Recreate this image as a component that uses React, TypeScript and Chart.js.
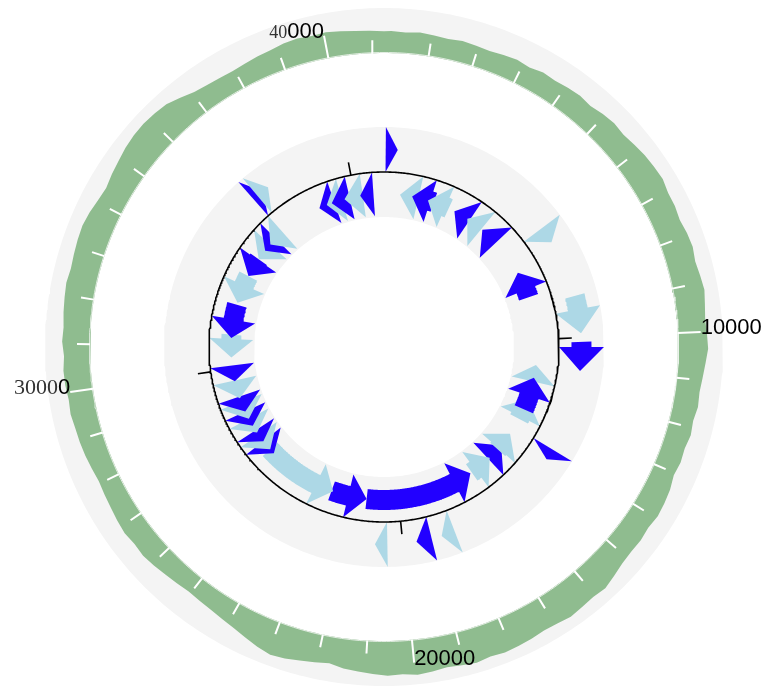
import React, { useEffect, useRef } from "react";
import { Chart, registerables } from "chart.js";

Chart.register(...registerables);

// ---------------- data ----------------
const GENOME_LENGTH = 41250;
const TICK_STEP = 1000;
const TICK_LABEL_VALUES = [10000, 20000, 30000, 40000];
const TICK_LABELS = ["10000", "20000", "30000", "40000"];

// GC content per 300 bp window (fraction of track height)
const GC_WINDOW = 300;
const GC_VALUES = [
  0.49, 0.47, 0.5, 0.48, 0.46, 0.49, 0.47, 0.45, 0.48, 0.5, 0.47, 0.52,
  0.5, 0.53, 0.55, 0.52, 0.57, 0.6, 0.58, 0.62, 0.66, 0.68, 0.7, 0.65,
  0.65, 0.62, 0.66, 0.68, 0.64, 0.67, 0.7, 0.66, 0.63, 0.65, 0.67, 0.62,
  0.58, 0.55, 0.57, 0.53, 0.56, 0.52, 0.54, 0.51, 0.57, 0.6, 0.62, 0.58,
  0.61, 0.6, 0.62, 0.68, 0.74, 0.71, 0.73, 0.76, 0.72, 0.7, 0.73, 0.75,
  0.77, 0.74, 0.78, 0.75, 0.72, 0.76, 0.79, 0.75, 0.77, 0.74, 0.7, 0.67,
  0.6, 0.64, 0.68, 0.73, 0.76, 0.7, 0.62, 0.55, 0.5, 0.46, 0.44, 0.42,
  0.45, 0.48, 0.52, 0.55, 0.53, 0.56, 0.54, 0.51, 0.49, 0.47, 0.5, 0.53,
  0.55, 0.56, 0.59, 0.57, 0.6, 0.61, 0.58, 0.62, 0.6, 0.63, 0.65, 0.67,
  0.64, 0.66, 0.68, 0.69, 0.66, 0.61, 0.58, 0.63, 0.67, 0.72, 0.75, 0.76,
  0.74, 0.71, 0.62, 0.53, 0.49, 0.47, 0.46, 0.48, 0.51, 0.53, 0.57, 0.59,
  0.56, 0.58, 0.55, 0.52, 0.5, 0.48,
];

// genes: [start, end, strand, track, shade] (drawing order)
const GENES: [number, number, number, string, string][] = [
  [688, 1490, -1, "in", "light"],
  [1215, 2177, -1, "in", "dark"],
  [1914, 2865, -1, "in", "light"],
  [3140, 3896, -1, "in", "dark"],
  [3782, 4527, -1, "in", "light"],
  [4584, 5386, -1, "in", "dark"],
  [6991, 8137, -1, "in", "dark"],
  [12606, 13523, -1, "in", "light"],
  [11082, 11804, -1, "in", "light"],
  [11643, 13064, -1, "in", "dark"],
  [14898, 15700, -1, "in", "dark"],
  [14268, 15127, -1, "in", "light"],
  [15620, 16617, -1, "in", "light"],
  [16686, 21373, -1, "in", "dark"],
  [21373, 22920, -1, "in", "dark"],
  [22851, 26129, -1, "in", "light"],
  [25900, 26587, -1, "in", "dark"],
  [26129, 26931, -1, "in", "light"],
  [26587, 27160, -1, "in", "dark"],
  [27046, 27733, -1, "in", "light"],
  [27389, 28077, -1, "in", "dark"],
  [27733, 28535, -1, "in", "light"],
  [28077, 28765, -1, "in", "dark"],
  [28696, 29487, -1, "in", "light"],
  [29452, 30140, -1, "in", "dark"],
  [30484, 31469, -1, "in", "light"],
  [31320, 32776, -1, "in", "dark"],
  [32867, 34094, -1, "in", "light"],
  [34105, 34953, -1, "in", "dark"],
  [34953, 35755, -1, "in", "light"],
  [35411, 36099, -1, "in", "dark"],
  [35755, 36500, -1, "in", "light"],
  [38391, 39079, -1, "in", "dark"],
  [38735, 39422, -1, "in", "light"],
  [38964, 39766, -1, "in", "dark"],
  [39537, 40339, -1, "in", "light"],
  [40225, 40798, -1, "in", "dark"],
  [57, 458, 1, "out", "dark"],
  [6074, 6647, 1, "out", "light"],
  [8595, 9856, 1, "out", "light"],
  [10142, 11116, 1, "out", "dark"],
  [13901, 14279, 1, "out", "dark"],
  [18221, 18680, 1, "out", "light"],
  [19024, 19539, 1, "out", "dark"],
  [20513, 20926, 1, "out", "light"],
  [36500, 36901, 1, "out", "dark"],
  [36672, 37130, 1, "out", "light"],
];

// ---------------- layout ----------------
const W = 763;
const H = 686;
const CX = 384;
const CY = 347;
const R_GC_IN = 294;
const R_GC_OUT = 339;
const R_TICK_MINOR = 307;
const R_TICK_MAJOR = 317;
const R_TRACK_IN = 130;
const R_TRACK_OUT = 220;
const R_AXIS = 175;
const R_AXIS_TICK = 188;
const TRACKS: Record<string, [number, number]> = { in: [131, 175], out: [175, 220] };
const HEAD_BP = 800;
const BODY_HALF = 10;
const COLORS: Record<string, string> = {
  ring: "#f4f4f4",
  gc: "#8fbc8f",
  dark: "#2200ff",
  light: "#add8e6",
};
const LABEL_SERIF_PREFIX = [0, 0, 4, 2];
const LABEL_SERIF_SIZE = [0, 0, 22, 18];

type P = { x: number; y: number | null };
const ang = (bp: number) => (bp / GENOME_LENGTH) * 2 * Math.PI;
const pt = (bp: number, r: number): P => ({ x: r * Math.sin(ang(bp)), y: r * Math.cos(ang(bp)) });
const arc = (b0: number, b1: number, r: number, step = 60): P[] => {
  const n = Math.max(1, Math.ceil(Math.abs(b1 - b0) / step));
  const out: P[] = [];
  for (let i = 0; i <= n; i++) out.push(pt(b0 + ((b1 - b0) * i) / n, r));
  return out;
};
const ring = (r0: number, r1: number): P[] => [
  ...arc(0, GENOME_LENGTH, r1, 100),
  ...arc(GENOME_LENGTH, 0, r0, 100),
];
const gcRadius = (v: number) => R_GC_IN + v * (R_GC_OUT - R_GC_IN);

function gcShape(): P[] {
  const first = GC_VALUES[0];
  const last = GC_VALUES[GC_VALUES.length - 1];
  const seam = gcRadius((first + last) / 2);
  const pts: P[] = [pt(0, seam)];
  GC_VALUES.forEach((v, i) => {
    const mid = (i + 0.5) * GC_WINDOW;
    if (mid < GENOME_LENGTH) pts.push(pt(mid, gcRadius(v)));
  });
  pts.push(pt(GENOME_LENGTH, seam));
  return [...pts, ...arc(GENOME_LENGTH, 0, R_GC_IN, 100)];
}

function gcTicks(): P[] {
  const pts: P[] = [];
  for (let bp = TICK_STEP; bp < GENOME_LENGTH; bp += TICK_STEP) {
    const major = TICK_LABEL_VALUES.includes(bp);
    pts.push(pt(bp, R_GC_IN), pt(bp, major ? R_TICK_MAJOR : R_TICK_MINOR), { x: 0, y: null });
  }
  return pts;
}

function axisTicks(): P[] {
  const pts: P[] = [];
  TICK_LABEL_VALUES.forEach((bp) => {
    pts.push(pt(bp, R_AXIS), pt(bp, R_AXIS_TICK), { x: 0, y: null });
  });
  return pts;
}

function arrow(start: number, end: number, strand: number, track: string): P[] {
  const [rIn, rOut] = TRACKS[track];
  const rMid = (rIn + rOut) / 2;
  const len = end - start;
  const head = Math.min(len, HEAD_BP);
  const tail = strand > 0 ? start : end;
  const tip = strand > 0 ? end : start;
  const base = tip - strand * head;
  const pts: P[] = [];
  const hasBody = len > head;
  if (hasBody) pts.push(...arc(tail, base, rMid + BODY_HALF, 40));
  pts.push(pt(base, rOut), pt(tip, rMid), pt(base, rIn));
  if (hasBody) pts.push(...arc(base, tail, rMid - BODY_HALF, 40));
  return pts;
}

const labelPlugin = {
  id: "tickLabels",
  afterDatasetsDraw(chart: any) {
    const { ctx } = chart;
    const xs = chart.scales.x;
    const ys = chart.scales.y;
    const sans = '22px "Liberation Sans", Arial, sans-serif';
    ctx.save();
    ctx.textBaseline = "alphabetic";
    TICK_LABEL_VALUES.forEach((v, i) => {
      const p = pt(v, R_TICK_MAJOR);
      const px = xs.getPixelForValue(p.x);
      const py = ys.getPixelForValue(p.y as number) + 2;
      const text = TICK_LABELS[i];
      const k = LABEL_SERIF_PREFIX[i];
      const serif = `${LABEL_SERIF_SIZE[i] || 20}px "Liberation Serif", "DejaVu Serif", serif`;
      const a = text.slice(0, k);
      const b = text.slice(k);
      ctx.font = serif;
      const wa = a ? ctx.measureText(a).width : 0;
      ctx.font = sans;
      const wb = ctx.measureText(b).width;
      const right = Math.sin(ang(v)) >= 0;
      const x0 = right ? px : px - wa - wb;
      ctx.textAlign = "left";
      if (a) {
        ctx.font = serif;
        ctx.fillStyle = "#333";
        ctx.fillText(a, x0, py);
      }
      ctx.font = sans;
      ctx.fillStyle = "#000";
      ctx.fillText(b, x0 + wa, py);
    });
    ctx.restore();
  },
};

export default function App() {
  const ref = useRef<HTMLCanvasElement | null>(null);
  useEffect(() => {
    if (!ref.current) return;
    const ds: any[] = [];
    const add = (data: P[], extra: any) =>
      ds.push({
        data,
        pointRadius: 0,
        pointHoverRadius: 0,
        borderWidth: 0,
        tension: 0,
        fill: false,
        spanGaps: false,
        ...extra,
      });
    add(ring(R_GC_IN, R_GC_OUT), { fill: "shape", backgroundColor: COLORS.ring });
    add(ring(R_TRACK_IN, R_TRACK_OUT), { fill: "shape", backgroundColor: COLORS.ring });
    add(gcShape(), { fill: "shape", backgroundColor: COLORS.gc });
    add(arc(0, GENOME_LENGTH, R_GC_IN + 0.5, 100), { borderColor: "rgba(235,242,235,0.9)", borderWidth: 1 });
    add(gcTicks(), { borderColor: "#ffffff", borderWidth: 2 });
    GENES.forEach((g) =>
      add(arrow(g[0], g[1], g[2], g[3]), { fill: "shape", backgroundColor: COLORS[g[4]] })
    );
    add(arc(0, GENOME_LENGTH, R_AXIS, 50), { borderColor: "#000", borderWidth: 1.6 });
    add(axisTicks(), { borderColor: "#000", borderWidth: 1.6 });
    ds.forEach((d, i) => (d.order = -i));

    const chart = new Chart(ref.current, {
      type: "line",
      data: { datasets: ds },
      options: {
        responsive: false,
        animation: false,
        events: [],
        layout: { padding: 0 },
        plugins: { legend: { display: false }, tooltip: { enabled: false } },
        scales: {
          x: { type: "linear", min: -CX, max: W - CX, display: false },
          y: { type: "linear", min: -(H - CY), max: CY, display: false },
        },
      },
      plugins: [labelPlugin],
    } as any);
    return () => chart.destroy();
  }, []);
  return (
    <div style={{ position: "fixed", left: 0, top: 0, width: W, height: H, background: "#fff" }}>
      <canvas ref={ref} width={W} height={H} style={{ display: "block" }} />
    </div>
  );
}
